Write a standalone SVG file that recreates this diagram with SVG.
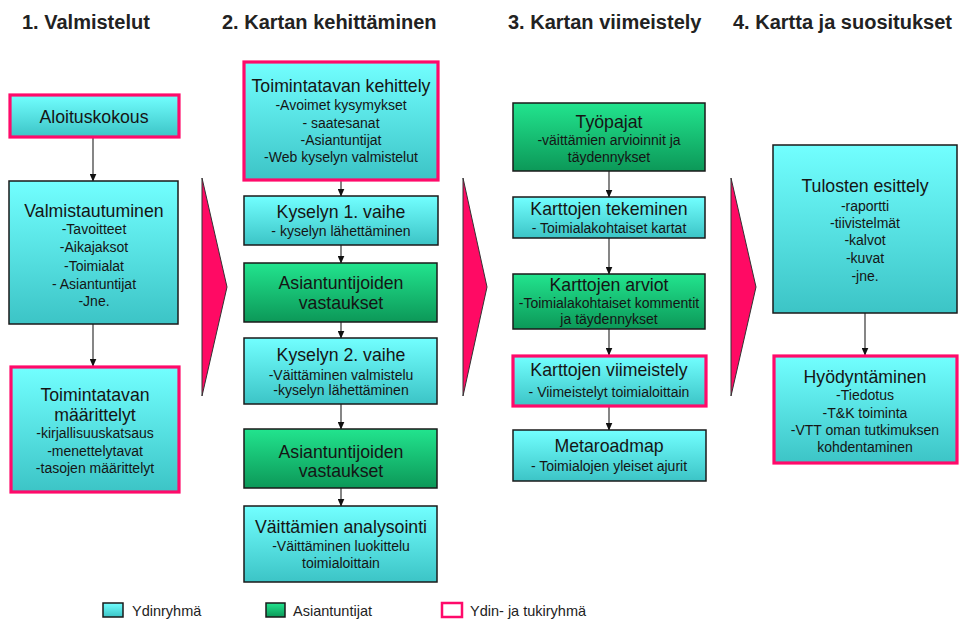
<svg xmlns="http://www.w3.org/2000/svg" width="961" height="623" viewBox="0 0 961 623">
<defs>
<linearGradient id="gc" x1="0" y1="0" x2="0" y2="1"><stop offset="0" stop-color="#72FFFF"/><stop offset="1" stop-color="#3CC4C6"/></linearGradient>
<linearGradient id="gg" x1="0" y1="0" x2="0" y2="1"><stop offset="0" stop-color="#22E48E"/><stop offset="1" stop-color="#0C9858"/></linearGradient>
<marker id="ah" markerWidth="8" markerHeight="7" refX="7.5" refY="3.5" orient="auto" markerUnits="userSpaceOnUse"><path d="M0,0 L8,3.5 L0,7 z" fill="#111"/></marker>
</defs>
<style>
text{font-family:"Liberation Sans",Arial,sans-serif;fill:#151515;text-anchor:middle}
.h{font-size:20px;font-weight:bold;text-anchor:start;fill:#222}
.t{font-size:17.7px}
.s{font-size:14px}
.c{fill:url(#gc);stroke:#1a1a1a;stroke-width:1.5}
.g{fill:url(#gg);stroke:#1a1a1a;stroke-width:1.5}
.p{fill:url(#gc);stroke:#FF0A6A;stroke-width:3.2}
.tri{fill:#FF0A64;stroke:#333;stroke-width:1}
.ln{stroke:#444;stroke-width:1.3;fill:none;marker-end:url(#ah)}
.lg{font-size:14.5px;text-anchor:start;fill:#222}
</style>
<rect width="961" height="623" fill="#fff"/>
<g id="headers">
<text class="h" x="22" y="29">1. Valmistelut</text>
<text class="h" x="222" y="29">2. Kartan kehittäminen</text>
<text class="h" x="508" y="29">3. Kartan viimeistely</text>
<text class="h" x="733" y="29">4. Kartta ja suositukset</text>
</g>
<g id="phase-arrows">
<path class="tri" d="M202,178 L227,287 L202,396 Z"/>
<path class="tri" d="M463,178 L487,287 L463,396 Z"/>
<path class="tri" d="M731,178 L756,287 L731,396 Z"/>
</g>
<g id="connectors">
<path class="ln" d="M93,137 V181"/>
<path class="ln" d="M93,324 V366"/>
<path class="ln" d="M341,180 V196"/>
<path class="ln" d="M341,245 V263"/>
<path class="ln" d="M341,322 V338"/>
<path class="ln" d="M341,404 V429"/>
<path class="ln" d="M341,488 V506"/>
<path class="ln" d="M609,171 V197"/>
<path class="ln" d="M609,238 V274"/>
<path class="ln" d="M609,329 V355"/>
<path class="ln" d="M609,406 V430"/>
<path class="ln" d="M865,313 V355"/>
</g>
<g id="n-aloituskokous">
<rect class="p" x="10" y="95" width="169" height="42"/>
<text class="t" x="94" y="123">Aloituskokous</text>
</g>
<g id="n-valmistautuminen">
<rect class="c" x="9" y="181" width="169" height="143"/>
<text class="t" x="94" y="217">Valmistautuminen</text>
<text class="s" x="94" y="234">-Tavoitteet</text>
<text class="s" x="94" y="252">-Aikajaksot</text>
<text class="s" x="94" y="271">-Toimialat</text>
<text class="s" x="94" y="289">- Asiantuntijat</text>
<text class="s" x="94" y="306">-Jne.</text>
</g>
<g id="n-toimintatavan-maarittelyt">
<rect class="p" x="11" y="367" width="168" height="125"/>
<text class="t" x="95" y="401">Toimintatavan</text>
<text class="t" x="95" y="421">määrittelyt</text>
<text class="s" x="95" y="438">-kirjallisuuskatsaus</text>
<text class="s" x="95" y="456">-menettelytavat</text>
<text class="s" x="95" y="473">-tasojen määrittelyt</text>
</g>
<g id="n-toimintatavan-kehittely">
<rect class="p" x="244" y="62" width="194" height="118"/>
<text class="t" x="341" y="92">Toimintatavan kehittely</text>
<text class="s" x="341" y="110">-Avoimet kysymykset</text>
<text class="s" x="341" y="128">- saatesanat</text>
<text class="s" x="341" y="145">-Asiantuntijat</text>
<text class="s" x="341" y="162">-Web kyselyn valmistelut</text>
</g>
<g id="n-kyselyn1">
<rect class="c" x="244" y="196" width="194" height="49"/>
<text class="t" x="341" y="218">Kyselyn 1. vaihe</text>
<text class="s" x="341" y="236">- kyselyn lähettäminen</text>
</g>
<g id="n-asiantuntijoiden1">
<rect class="g" x="244" y="263" width="193" height="59"/>
<text class="t" x="341" y="289">Asiantuntijoiden</text>
<text class="t" x="341" y="309">vastaukset</text>
</g>
<g id="n-kyselyn2">
<rect class="c" x="244" y="338" width="193" height="66"/>
<text class="t" x="341" y="361">Kyselyn 2. vaihe</text>
<text class="s" x="341" y="380">-Väittäminen valmistelu</text>
<text class="s" x="341" y="395">-kyselyn lähettäminen</text>
</g>
<g id="n-asiantuntijoiden2">
<rect class="g" x="244" y="429" width="193" height="59"/>
<text class="t" x="341" y="458">Asiantuntijoiden</text>
<text class="t" x="341" y="477">vastaukset</text>
</g>
<g id="n-vaittamien-analysointi">
<rect class="c" x="244" y="506" width="193" height="76"/>
<text class="t" x="341" y="533">Väittämien analysointi</text>
<text class="s" x="341" y="551">-Väittäminen luokittelu</text>
<text class="s" x="341" y="568">toimialoittain</text>
</g>
<g id="n-tyopajat">
<rect class="g" x="513" y="103" width="192" height="68"/>
<text class="t" x="609" y="128">Työpajat</text>
<text class="s" x="609" y="145">-väittämien arvioinnit ja</text>
<text class="s" x="609" y="162">täydennykset</text>
</g>
<g id="n-karttojen-tekeminen">
<rect class="c" x="513" y="197" width="192" height="41"/>
<text class="t" x="609" y="215">Karttojen tekeminen</text>
<text class="s" x="609" y="233">- Toimialakohtaiset kartat</text>
</g>
<g id="n-karttojen-arviot">
<rect class="g" x="513" y="274" width="192" height="55"/>
<text class="t" x="609" y="291">Karttojen arviot</text>
<text class="s" x="609" y="308">-Toimialakohtaiset kommentit</text>
<text class="s" x="609" y="324">ja täydennykset</text>
</g>
<g id="n-karttojen-viimeistely">
<rect class="p" x="513" y="356" width="193" height="50"/>
<text class="t" x="609" y="376">Karttojen viimeistely</text>
<text class="s" x="609" y="397">- Viimeistelyt toimialoittain</text>
</g>
<g id="n-metaroadmap">
<rect class="c" x="513" y="430" width="193" height="51"/>
<text class="t" x="609" y="452">Metaroadmap</text>
<text class="s" x="609" y="471">- Toimialojen yleiset ajurit</text>
</g>
<g id="n-tulosten-esittely">
<rect class="c" x="773" y="145" width="184" height="168"/>
<text class="t" x="865" y="192">Tulosten esittely</text>
<text class="s" x="865" y="211">-raportti</text>
<text class="s" x="865" y="228">-tiivistelmät</text>
<text class="s" x="865" y="245">-kalvot</text>
<text class="s" x="865" y="263">-kuvat</text>
<text class="s" x="865" y="281">-jne.</text>
</g>
<g id="n-hyodyntaminen">
<rect class="p" x="774" y="356" width="183" height="107"/>
<text class="t" x="865" y="383">Hyödyntäminen</text>
<text class="s" x="865" y="400">-Tiedotus</text>
<text class="s" x="865" y="418">-T&amp;K toiminta</text>
<text class="s" x="865" y="435">-VTT oman tutkimuksen</text>
<text class="s" x="865" y="452">kohdentaminen</text>
</g>
<g id="legend">
<rect class="c" x="103" y="603" width="20" height="14"/>
<text class="lg" x="132" y="616">Ydinryhmä</text>
<rect class="g" x="266" y="603" width="19" height="14"/>
<text class="lg" x="293" y="616">Asiantuntijat</text>
<rect x="442" y="603" width="20" height="14" fill="#fff" stroke="#FF0A6A" stroke-width="2.5"/>
<text class="lg" x="470" y="616">Ydin- ja tukiryhmä</text>
</g>
</svg>
